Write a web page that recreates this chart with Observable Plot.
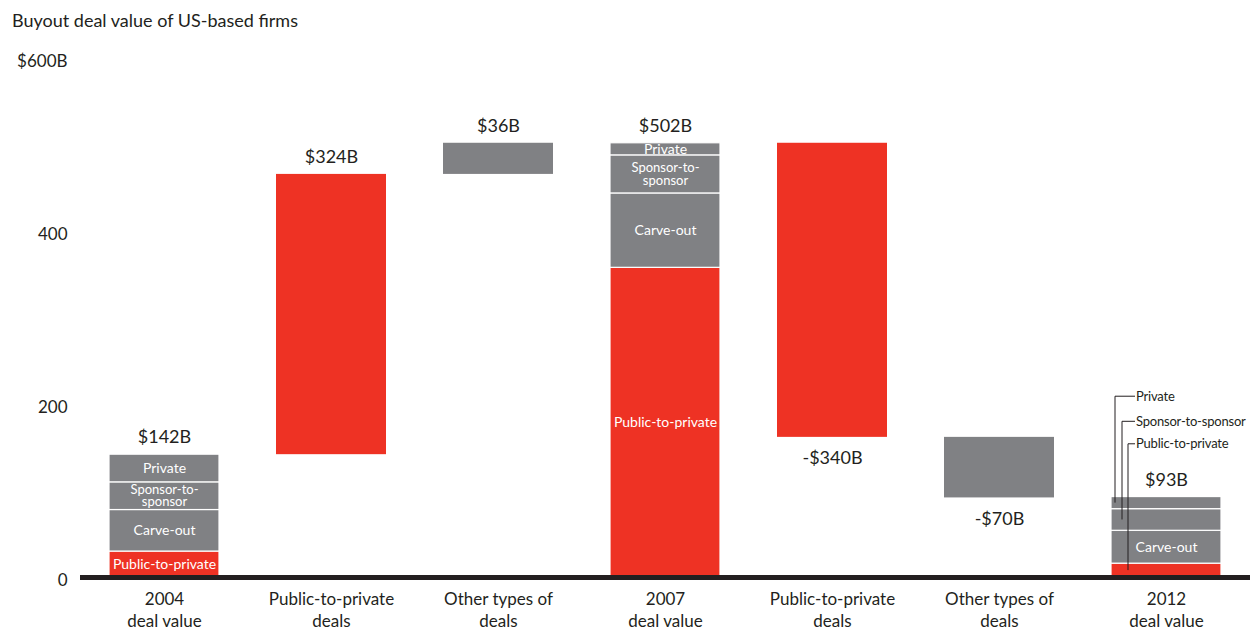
<!DOCTYPE html>
<html><head><meta charset="utf-8">
<script src="https://cdn.jsdelivr.net/npm/d3@7"></script>
<script src="https://cdn.jsdelivr.net/npm/@observablehq/plot@0.6"></script>
<style>
body{margin:0;background:#fff;font-family:Lato, "Noto Sans", sans-serif;}
#title{height:36px;box-sizing:border-box;padding:10px 0 0 12px;font-size:18px;line-height:20px;color:#231f20;}
</style></head><body>
<div id="title">Buyout deal value of US-based firms</div>
<div id="chart"></div>
<script>
// ---- data ----
const steps = ["2004", "p2p-up", "other-up", "2007", "p2p-down", "other-down", "2012"];
const stepLabels = ["2004\ndeal value", "Public-to-private\ndeals", "Other types of\ndeals", "2007\ndeal value", "Public-to-private\ndeals", "Other types of\ndeals", "2012\ndeal value"];
const segmentTypes = ["Public-to-private", "Carve-out", "Sponsor-to-sponsor", "Private"];
const values2004 = [30, 48, 32, 32];
const values2007 = [358, 86, 44, 14];
const values2012 = [16, 38, 25, 14];
const changeSteps = ["p2p-up", "other-up", "p2p-down", "other-down"];
const changeValues = [324, 36, -340, -70];
const changeKinds = ["p2p", "other", "p2p", "other"];
const yTicks = [0, 200, 400, 600];

// ---- build ----
const RED = "#ee3224", GRAY = "#808184", INK = "#231f20";
const totals = {"2004": values2004, "2007": values2007, "2012": values2012};
const bars = [], valueLabels = [];
let level = 0;
steps.forEach(step => {
  if (totals[step]) {
    let acc = 0;
    segmentTypes.forEach((t, i) => {
      const v = totals[step][i];
      bars.push({step, type: t, kind: t === "Public-to-private" ? "p2p" : "other", y1: acc, y2: acc + v, segment: true});
      acc += v;
    });
    level = acc;
    valueLabels.push({step, y: acc, text: "$" + acc + "B", pos: true});
  } else {
    const i = changeSteps.indexOf(step);
    const v = changeValues[i];
    bars.push({step, kind: changeKinds[i], y1: level, y2: level + v, segment: false});
    valueLabels.push({step, y: level + v, text: (v < 0 ? "-" : "") + "$" + Math.abs(v) + "B", pos: v > 0});
    level += v;
  }
});
const displayName = {"Public-to-private": "Public-to-private", "Carve-out": "Carve-out", "Sponsor-to-sponsor": "Sponsor-to-\nsponsor", "Private": "Private"};
const innerLabels = bars.filter(b => b.segment && (b.step !== "2012" || b.type === "Carve-out"));
const callouts = [
  {type: "Private", offset: 4, labelY: 209},
  {type: "Sponsor-to-sponsor", offset: 11, labelY: 180},
  {type: "Public-to-private", offset: 17, labelY: 154}
];

function calloutMark(index, scales) {
  const x = scales.x, y = scales.y;
  const x0 = x("2012");
  const g = d3.create("svg:g");
  callouts.forEach(c => {
    const seg = bars.find(b => b.step === "2012" && b.type === c.type);
    const lx = x0 + c.offset;
    const yEnd = y((seg.y1 + seg.y2) / 2), yLab = y(c.labelY);
    g.append("path").attr("d", `M${lx},${yEnd}V${yLab}H${x0 + 24}`)
      .attr("fill", "none").attr("stroke", INK).attr("stroke-width", 1);
    g.append("text").attr("x", x0 + 25).attr("y", yLab).attr("dy", "0.35em")
      .attr("text-anchor", "start")
      .attr("fill", INK).attr("font-size", 13).attr("letter-spacing", "-0.2").text(c.type);
  });
  return g.node();
}

const isSponsor = d => d.type === "Sponsor-to-sponsor";
const chart = Plot.plot({
  width: 1256,
  height: 594,
  marginLeft: 80,
  marginRight: 6,
  marginTop: 22,
  marginBottom: 53,
  style: {fontFamily: "Lato, 'Noto Sans', sans-serif", color: INK, background: "white"},
  x: {type: "band", domain: steps, paddingInner: 0.34, paddingOuter: 0.17},
  y: {domain: [0, 600]},
  color: {domain: ["p2p", "other"], range: [RED, GRAY]},
  marks: [
    Plot.barY(bars, {x: "step", y1: "y1", y2: "y2", fill: "kind", stroke: d => d.segment ? "white" : "none", strokeWidth: 1.2}),
    Plot.text(innerLabels.filter(d => !isSponsor(d)), {x: "step", y: d => (d.y1 + d.y2) / 2, text: d => displayName[d.type], fill: "white", fontSize: 14}),
    Plot.text(innerLabels.filter(isSponsor), {x: "step", y: d => (d.y1 + d.y2) / 2, text: d => displayName[d.type], fill: "white", fontSize: 13, lineHeight: 0.95}),
    Plot.text(valueLabels, {x: "step", y: "y", text: "text", fontSize: 18, fill: INK, filter: d => d.pos, dy: -17}),
    Plot.text(valueLabels, {x: "step", y: "y", text: "text", fontSize: 18, fill: INK, filter: d => !d.pos, dy: 21}),
    Plot.ruleY([0], {stroke: INK, strokeWidth: 5}),
    Plot.axisY({ticks: yTicks, tickSize: 0, tickPadding: 13, fontSize: 17, dy: 3, label: null, tickFormat: d => d === 600 ? "$600B" : String(d)}),
    Plot.axisX({tickSize: 0, tickPadding: 12, fontSize: 17, lineHeight: 1.3, label: null, tickFormat: d => stepLabels[steps.indexOf(d)]}),
    calloutMark
  ]
});
document.getElementById("chart").appendChild(chart);
</script></body></html>
